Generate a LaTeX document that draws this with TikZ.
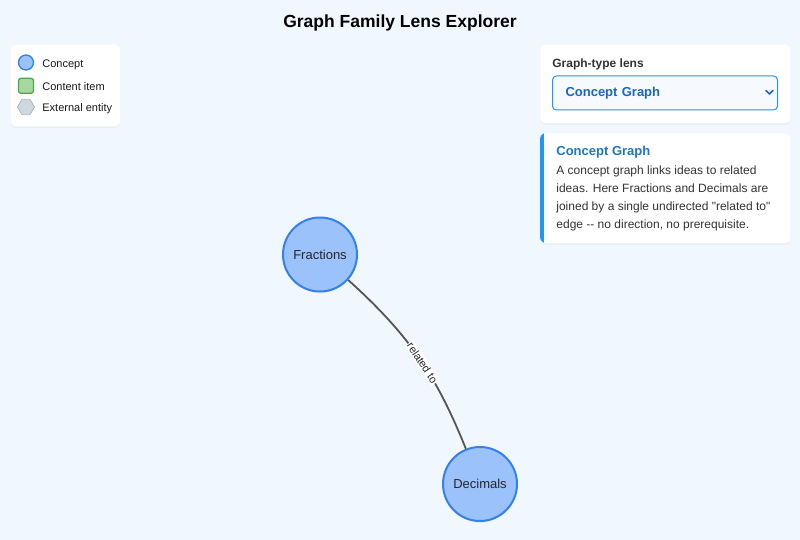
\documentclass[tikz,border=0pt]{standalone}
\usepackage{fontspec}
\setmainfont{Liberation Sans}[Ligatures=TeXOff]
\usepackage{tikz}
\usetikzlibrary{arrows}
\usetikzlibrary{positioning}
\usetikzlibrary{shapes.geometric}
\usetikzlibrary{shadows}

\definecolor{pagebg}{RGB}{240,247,255}
\definecolor{conceptfill}{RGB}{155,194,251}
\definecolor{conceptline}{RGB}{52,128,236}
\definecolor{contentfill}{RGB}{168,216,160}
\definecolor{contentline}{RGB}{76,166,80}
\definecolor{extfill}{RGB}{207,216,222}
\definecolor{extline}{RGB}{160,172,182}
\definecolor{lensblue}{RGB}{24,102,196}
\definecolor{accent}{RGB}{33,150,243}
\definecolor{bodytext}{RGB}{51,51,51}
\definecolor{edgegray}{RGB}{85,85,85}

\begin{document}
\begin{tikzpicture}[x=1pt,y=-1pt,thick,
	concept node/.style={circle,draw=conceptline,line width=2pt,fill=conceptfill,minimum size=74pt,inner sep=0pt,font=\fontsize{13}{15}\selectfont,text=black!85,drop shadow={opacity=0.12,shadow xshift=0pt,shadow yshift=-1.5pt}},
	panel/.style={rectangle,rounded corners=6pt,fill=white,draw=none,inner sep=0pt,drop shadow={opacity=0.07,shadow xshift=0pt,shadow yshift=-1.5pt}},
	legend text/.style={anchor=west,inner sep=0pt,font=\fontsize{11}{13}\selectfont,text=black!90},
	select box/.style={rectangle,rounded corners=4pt,draw=accent,line width=1pt,fill=pagebg!60,minimum width=225pt,minimum height=34pt,inner xsep=13pt,text width=199pt,align=left,font=\bfseries\fontsize{13}{15}\selectfont,text=lensblue}]

				% page
				\useasboundingbox[fill=pagebg] (0,0) rectangle (800,540);
				\node[font=\bfseries\fontsize{17.5}{20}\selectfont] (title) at (400,23) {Graph Family Lens Explorer};

				% legend
				\node[panel,anchor=north west,minimum width=110pt,minimum height=82pt] (legend) at (10,44) {};
				\node[circle,draw=conceptline,line width=1.3pt,fill=conceptfill,minimum size=15pt,inner sep=0pt] (lconcept) at (26,62.5) {};
				\node[rectangle,rounded corners=2.5pt,draw=contentline,line width=1.3pt,fill=contentfill,minimum size=15pt,inner sep=0pt] (lcontent) [below=7pt of lconcept] {};
				\node[regular polygon,regular polygon sides=6,draw=extline,line width=0.6pt,fill=extfill,minimum size=17pt,inner sep=0pt] (lext) at (26,107) {};
				\node[legend text] (tconcept) at (42,65) {Concept};
				\node[legend text] (tcontent) at (42,87) {Content item};
				\node[legend text] (text) at (42,109) {External entity};

				% lens selector
				\node[panel,anchor=north west,minimum width=250pt,minimum height=79pt] (lenspanel) at (540,44) {};
				\node[anchor=west,inner sep=0pt,font=\bfseries\fontsize{12}{14}\selectfont,text=black!80] (lenslabel) at (552,64.5) {Graph-type lens};
				\node[select box,anchor=west] (lens) at (552,93) {\raisebox{-2pt}{Concept Graph}};
				\draw[lensblue,line width=1.6pt,line cap=round,line join=round] (766,90.5) -- (769.5,94) -- (773,90.5);

				% description
				\node[panel,anchor=north west,minimum width=250pt,minimum height=110pt] (info) at (540,133) {};
				\begin{scope}
					\clip[rounded corners=6pt] (540,133) rectangle (790,243);
					\fill[accent] (540,133) rectangle (543.5,243);
				\end{scope}
				\node[anchor=west,inner sep=0pt,font=\bfseries\fontsize{13}{15}\selectfont,text=accent!80!black] (infohead) at (556,152) {Concept Graph};
				\node[anchor=north west,inner sep=0pt,align=left,font=\fontsize{12}{18}\selectfont,text=bodytext] (infobody) at (556,165) {A concept graph links ideas to related\\ideas. Here Fractions and Decimals are\\joined by a single undirected "related to"\\edge -{}- no direction, no prerequisite.};

				% graph
				\node[concept node] (F) at (320,254.5) {Fractions};
				\node[concept node] (D) at (480,484) {Decimals};

				\path[-,draw=edgegray,line width=1.8pt]
				(F) edge[bend left=13] node[pos=0.54,sloped,fill=white,inner sep=1pt,font=\fontsize{11}{13}\selectfont,text=black!85] {related to} (D);

\end{tikzpicture}
\end{document}
